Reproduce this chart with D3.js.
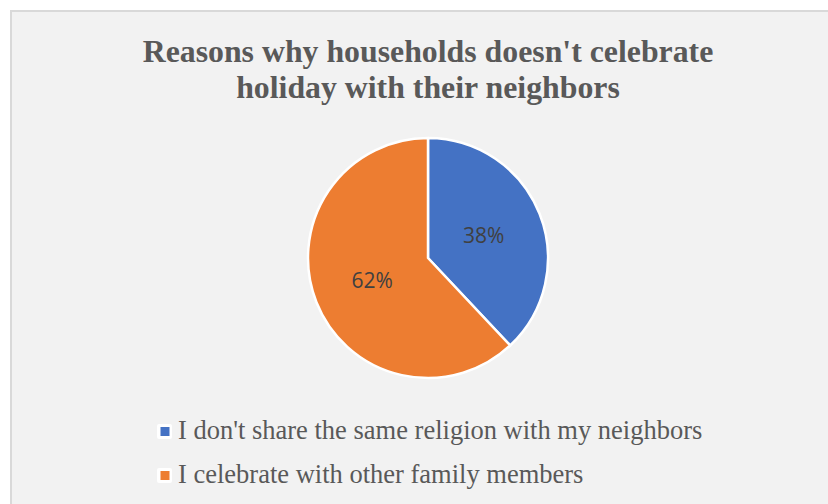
<!DOCTYPE html>
<html><head><meta charset="utf-8">
<script src="https://cdn.jsdelivr.net/npm/d3@7"></script>
<style>body{margin:0;background:#fff;}svg{display:block;}</style>
</head><body>
<script>
const categories = ["I don't share the same religion with my neighbors", "I celebrate with other family members"];
const values = [38, 62];
const colors = ["#4472C4", "#ED7D31"];
const titleLines = ["Reasons why households doesn't celebrate", "holiday with their neighbors"];

const W = 828, H = 504;
const svg = d3.select("body").append("svg").attr("width", W).attr("height", H);
svg.append("rect").attr("x", 0).attr("y", 0).attr("width", W).attr("height", H).attr("fill", "#fff");
svg.append("rect").attr("x", 11).attr("y", 11).attr("width", W + 20).attr("height", H + 20)
  .attr("fill", "#f2f2f2").attr("stroke", "#d9d9d9").attr("stroke-width", 2);

const cx = 428, cy = 258, r = 120;
svg.append("g").selectAll("text").data(titleLines).join("text")
  .attr("x", cx).attr("y", (d, i) => 62 + i * 36)
  .attr("text-anchor", "middle")
  .attr("font-family", "'Liberation Serif', 'Times New Roman', serif")
  .attr("font-weight", "bold").attr("font-size", 31.8).attr("fill", "#595959")
  .text(d => d);

const pie = d3.pie().sort(null).value(d => d);
const arcs = pie(values);
const arc = d3.arc().innerRadius(0).outerRadius(r);
const g = svg.append("g").attr("transform", `translate(${cx},${cy})`);
g.selectAll("path").data(arcs).join("path")
  .attr("d", arc).attr("fill", (d, i) => colors[i])
  .attr("stroke", "#fff").attr("stroke-width", 2.5).attr("stroke-linejoin", "round");

const labelArc = d3.arc().innerRadius(r * 0.5).outerRadius(r * 0.5);
g.selectAll("text").data(arcs).join("text")
  .attr("transform", d => `translate(${labelArc.centroid(d)})`)
  .attr("text-anchor", "middle").attr("dy", "0.36em")
  .attr("font-family", "'Open Sans', 'Liberation Sans', sans-serif")
  .attr("font-size", 21).attr("fill", "#404040")
  .text(d => d.data + "%");

const leg = svg.append("g");
const rows = leg.selectAll("g").data(categories).join("g")
  .attr("transform", (d, i) => `translate(158, ${439 + i * 44})`);
rows.append("rect").attr("x", -1).attr("y", -15).attr("width", 15).attr("height", 15).attr("rx", 2)
  .attr("fill", "#fff");
rows.append("rect").attr("x", 2.5).attr("y", -12).attr("width", 9).attr("height", 9)
  .attr("fill", (d, i) => colors[i]);
rows.append("text").attr("x", 20).attr("y", 0)
  .attr("font-family", "'Liberation Serif', 'Times New Roman', serif")
  .attr("font-size", 26.5).attr("fill", "#595959")
  .text(d => d);
</script>
</body></html>
